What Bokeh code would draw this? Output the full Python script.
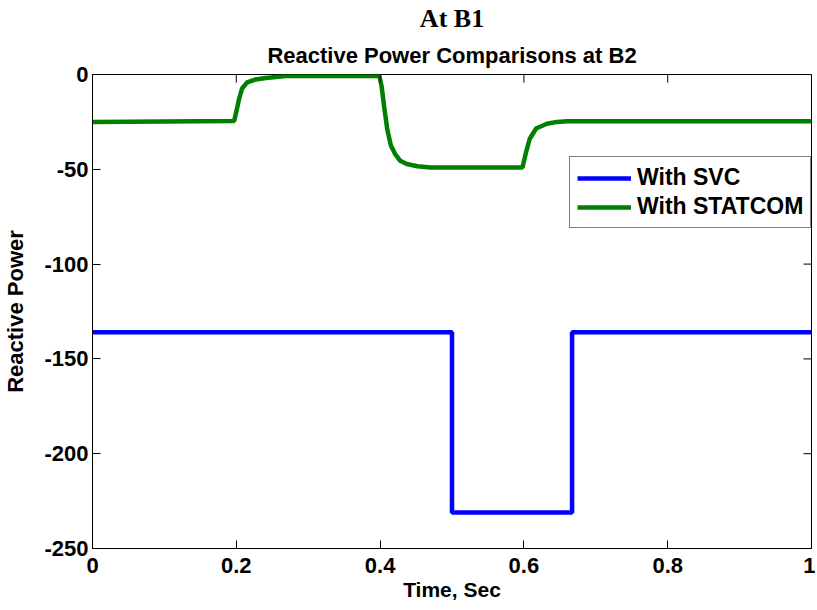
import math
from bokeh.plotting import figure
from bokeh.models import Range1d, FixedTicker, Title, Legend, LegendItem
from bokeh.embed import file_html
from bokeh.resources import INLINE

# Data
svc_t = [0.0, 0.5, 0.5, 0.667, 0.667, 1.0]
svc_q = [-136, -136, -231, -231, -136, -136]

statcom_t = [0.0, 0.197, 0.201, 0.204, 0.208, 0.215, 0.227, 0.241, 0.269,
             0.399, 0.402, 0.406, 0.410, 0.415, 0.421, 0.428, 0.437, 0.452, 0.47,
             0.598, 0.603, 0.608, 0.617, 0.632, 0.646, 0.66, 1.0]
statcom_q = [-25, -24.5, -18, -12.7, -7.4, -4.2, -2.6, -1.8, -0.8,
             -0.8, -6, -18, -29, -37.5, -42, -45.5, -47.2, -48.4, -49,
             -49, -41, -34, -28.5, -26, -25, -24.6, -24.6]

x_ticks = [0, 0.2, 0.4, 0.6, 0.8, 1.0]
x_tick_labels = ["0", "0.2", "0.4", "0.6", "0.8", "1"]
y_ticks = [-250, -200, -150, -100, -50, 0]
y_tick_labels = ["-250", "-200", "-150", "-100", "-50", "0"]

SANS = "Liberation Sans"
SERIF = "Liberation Serif"

p = figure(frame_width=719, frame_height=474, output_backend="svg", toolbar_location=None,
           title=None, x_range=Range1d(0, 1), y_range=Range1d(-250, 0),
           min_border_left=85, min_border_top=68, min_border_bottom=50, min_border_right=4)

p.outline_line_color = "black"
p.outline_line_width = 1
p.xgrid.visible = False
p.ygrid.visible = False
p.background_fill_color = "white"
p.border_fill_color = "white"

r1 = p.line(svc_t, svc_q, line_color="#0000ff", line_width=4.5)
r2 = p.line(statcom_t, statcom_q, line_color="#008000", line_width=4.5)

xa = p.xaxis[0]
ya = p.yaxis[0]
xa.ticker = FixedTicker(ticks=x_ticks)
ya.ticker = FixedTicker(ticks=y_ticks)
xa.major_label_overrides = dict(zip(x_ticks, x_tick_labels))
ya.major_label_overrides = dict(zip(y_ticks, y_tick_labels))
for ax in (xa, ya):
    ax.major_tick_in = 8
    ax.major_tick_out = 0
    ax.minor_tick_line_color = None
    ax.axis_line_color = "black"
    ax.major_tick_line_color = "black"
    ax.major_label_text_font = SANS
    ax.major_label_text_font_style = "bold"
    ax.major_label_text_font_size = "22px"
    ax.major_label_text_color = "black"
    ax.axis_label_text_font = SANS
    ax.axis_label_text_font_style = "bold"
    ax.axis_label_text_color = "black"
xa.axis_label = "Time, Sec"
ya.axis_label = "Reactive Power"
xa.axis_label_text_font_size = "21px"
ya.axis_label_text_font_size = "22px"
xa.major_label_standoff = 9
xa.axis_label_standoff = 2
ya.major_label_standoff = 4
ya.axis_label_standoff = 13

# inward box ticks on top and right edges
p.ray(x=x_ticks, y=[y_ticks[-1]] * len(x_ticks), length=8, length_units="screen",
      angle=-math.pi / 2, line_color="black", line_width=1)
p.ray(x=[x_ticks[-1]] * len(y_ticks), y=y_ticks, length=8, length_units="screen",
      angle=math.pi, line_color="black", line_width=1)

t2 = Title(text="Reactive Power Comparisons at B2", align="center", text_font=SANS,
           text_font_style="bold", text_font_size="22px", text_color="black",
           standoff=14, offset=0)
t1 = Title(text="At B1", align="center", text_font=SERIF,
           text_font_style="bold", text_font_size="26px", text_color="black",
           standoff=2, offset=0)
p.add_layout(t2, "above")
p.add_layout(t1, "above")

legend = Legend(items=[LegendItem(label="With SVC", renderers=[r1]),
                       LegendItem(label="With STATCOM", renderers=[r2])],
                location=(477, 320))
legend.label_text_font = SANS
legend.label_text_font_style = "bold"
legend.label_text_font_size = "23px"
legend.label_text_color = "black"
legend.glyph_width = 54
legend.label_standoff = 6
legend.padding = 7
legend.spacing = 2
legend.margin = 0
legend.border_line_color = "black"
legend.border_line_width = 1
legend.background_fill_alpha = 1
p.add_layout(legend, "center")

open("out.html", "w").write(file_html(p, INLINE))
